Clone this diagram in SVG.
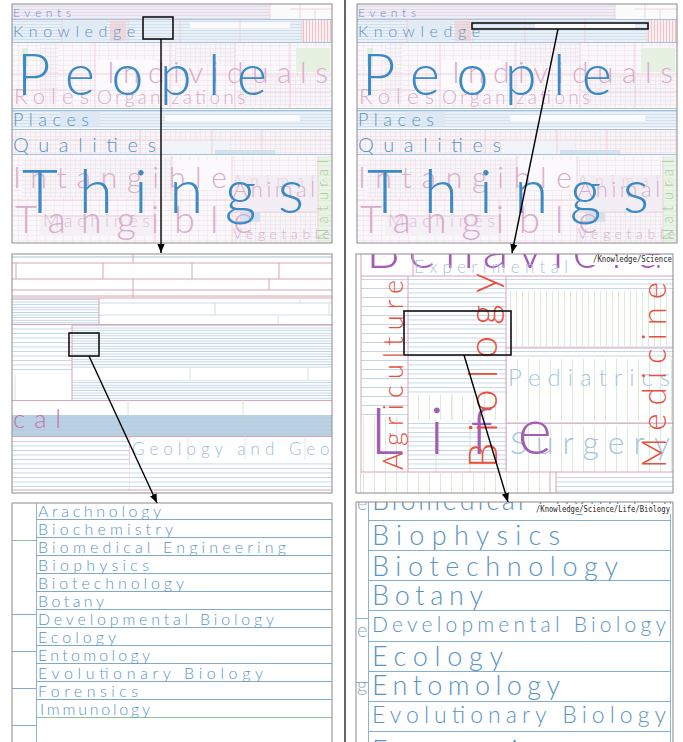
<svg xmlns="http://www.w3.org/2000/svg" xmlns:xlink="http://www.w3.org/1999/xlink" width="683" height="742" viewBox="0 0 683 742">
  <style>
    text { font-family: "Lato", "Liberation Sans", sans-serif; font-weight: 300; }
    .frame { fill: none; stroke: #8a8a8a; stroke-width: 1; }
    .pk { stroke: #dca4b4; stroke-width: 1; fill: none; }
    .pk2 { stroke: #ecccd4; stroke-width: .8; fill: none; }
    .bl { stroke: #8fb4d4; stroke-width: 1; fill: none; }
    .gr { stroke: #cfe4cc; stroke-width: .8; fill: none; }
    .hi { fill: none; stroke: #111; stroke-width: 1.6; }
    .arrow { fill: none; stroke: #000; stroke-width: 1.4; marker-end: url(#head); }
    .path { font-family: "DejaVu Sans Mono", "Liberation Mono", monospace; font-weight: normal; font-size: 8px; fill: #222; }
    .big { fill: #3b8ac6; }
    .lab { fill: #5a94c6; }
    .pinkt { fill: #d9adcb; }
    .purple { fill: #a45cb4; }
    .red { fill: #e8503c; }
    .pale { fill: #a6c4e2; }
  </style>
  <defs>
    <marker id="head" viewBox="0 0 10 10" refX="10" refY="5" markerWidth="9" markerHeight="9" markerUnits="userSpaceOnUse" orient="auto">
      <path d="M0 1L10 5L0 9z" fill="#000"/>
    </marker>
    <!-- fill textures for the treemap cells -->
    <pattern id="lav" width="8" height="3" patternUnits="userSpaceOnUse">
      <rect width="8" height="3" fill="#f0ecf4"/><path d="M0 .5H8" stroke="#dccee2" stroke-width=".6"/>
    </pattern>
    <pattern id="bluS" width="8" height="3" patternUnits="userSpaceOnUse">
      <rect width="8" height="3" fill="#e9f0f7"/><path d="M0 .5H8" stroke="#c2d4e6" stroke-width=".6"/>
    </pattern>
    <pattern id="pgrid" width="9" height="5" patternUnits="userSpaceOnUse">
      <rect width="9" height="5" fill="#fbf8fb"/><path d="M0 .5H9M.5 0V5" stroke="#f0dee6" stroke-width=".5"/>
    </pattern>
    <pattern id="pgrid2" width="5" height="4" patternUnits="userSpaceOnUse">
      <rect width="5" height="4" fill="#f8f5f9"/><path d="M0 .5H5M.5 0V4" stroke="#ecdde6" stroke-width=".5"/>
    </pattern>
    <pattern id="vpink" width="3" height="6" patternUnits="userSpaceOnUse">
      <rect width="3" height="6" fill="#f9eef0"/><path d="M.5 0V6" stroke="#e6a4b0" stroke-width=".6"/>
    </pattern>
    <pattern id="grn" width="6" height="5" patternUnits="userSpaceOnUse">
      <rect width="6" height="5" fill="#eaf4e6"/><path d="M0 .5H6" stroke="#d6e8d0" stroke-width=".5"/>
    </pattern>
    <pattern id="hb26" width="10" height="2.6" patternUnits="userSpaceOnUse">
      <rect width="10" height="2.6" fill="#fff"/><path d="M0 .5H10" stroke="#9fbfd9" stroke-width=".7"/>
    </pattern>
    <pattern id="hb4" width="10" height="4.5" patternUnits="userSpaceOnUse">
      <rect width="10" height="4.5" fill="#fff"/><path d="M0 .5H10" stroke="#a8c4dc" stroke-width=".7"/>
    </pattern>
    <pattern id="hb9" width="10" height="9" patternUnits="userSpaceOnUse">
      <rect width="10" height="9" fill="#fff"/><path d="M0 .5H10" stroke="#b4cce0" stroke-width=".8"/>
    </pattern>
    <pattern id="vg6" width="6" height="10" patternUnits="userSpaceOnUse">
      <rect width="6" height="10" fill="#fff"/><path d="M.5 0V10" stroke="#d2e6d0" stroke-width=".8"/>
    </pattern>
    <pattern id="vg11" width="11" height="10" patternUnits="userSpaceOnUse">
      <rect width="11" height="10" fill="#fff"/><path d="M.5 0V10" stroke="#d2e6d0" stroke-width=".8"/>
    </pattern>
    <clipPath id="c1"><rect x="12" y="4" width="320" height="239"/></clipPath>
    <clipPath id="c2l"><rect x="12" y="254" width="320" height="239"/></clipPath>
    <clipPath id="c2r"><rect x="356" y="254" width="317" height="239"/></clipPath>
    <clipPath id="c3l"><rect x="12" y="503" width="320" height="239"/></clipPath>
    <clipPath id="c3r"><rect x="356" y="502" width="317" height="240"/></clipPath>

    <!-- top-level treemap, shared by both columns -->
    <g id="overview-map">
      <g clip-path="url(#c1)">
        <rect x="12" y="4" width="320" height="239" fill="#fbf9fb"/>
        <!-- Events -->
        <rect x="12" y="4" width="258" height="15" fill="url(#lav)"/>
        <rect x="270" y="4" width="62" height="15" fill="#fcfbfc"/>
        <path class="pk2" d="M270 4V19M290 9H332M300 4V19M315 9V19"/>
        <!-- Knowledge -->
        <rect x="12" y="20" width="290" height="22" fill="url(#bluS)"/>
        <rect x="110" y="21" width="16" height="20" fill="#f2cccc" opacity=".6"/>
        <rect x="62" y="21" width="44" height="20" fill="#e2ebf4"/>
        <rect x="190" y="22" width="100" height="6" fill="#f8fafc"/>
        <rect x="302" y="20" width="30" height="22" fill="url(#vpink)"/>
        <path class="pk2" d="M62 20V42M128 20V42M180 20V42M240 20V42M302 20V42"/>
        <!-- People -->
        <rect x="12" y="43" width="320" height="65" fill="url(#pgrid)"/>
        <rect x="40" y="44" width="18" height="60" fill="url(#pgrid2)"/>
        <rect x="96" y="60" width="60" height="30" fill="#fcfafc"/>
        <rect x="175" y="44" width="60" height="20" fill="url(#pgrid2)"/>
        <rect x="296" y="48" width="34" height="24" fill="#e6f1e2"/>
        <rect x="240" y="76" width="90" height="30" fill="url(#pgrid2)"/>
        <rect x="22" y="48" width="6" height="18" fill="#e0eedc"/>
        <path class="pk2" d="M12 74H332M95 43V108M170 43V108M235 43V108M290 43V108M12 90H95M235 92H332"/>
        <!-- Places -->
        <rect x="12" y="110" width="320" height="18" fill="url(#bluS)"/>
        <rect x="60" y="112" width="40" height="14" fill="#dde8f3"/>
        <rect x="165" y="115" width="135" height="6" fill="#fbfcfe"/>
        <!-- Qualities -->
        <rect x="12" y="130" width="320" height="24" fill="url(#pgrid2)"/>
        <rect x="160" y="140" width="70" height="13" fill="#f0f4f8"/>
        <rect x="215" y="150" width="60" height="4" fill="#d4e2f0"/>
        <path class="pk2" d="M12 140H332M140 130V154M212 130V154M262 130V154"/>
        <!-- Things -->
        <rect x="12" y="156" width="320" height="87" fill="url(#pgrid)"/>
        <rect x="22" y="158" width="150" height="40" fill="url(#pgrid2)"/>
        <rect x="172" y="160" width="60" height="30" fill="#fbf9fb"/>
        <rect x="234" y="176" width="84" height="36" fill="#f3eef5"/>
        <rect x="318" y="156" width="14" height="87" fill="url(#grn)"/>
        <rect x="232" y="212" width="86" height="31" fill="url(#pgrid2)"/>
        <rect x="240" y="212" width="20" height="10" fill="#d4e3ef"/>
        <rect x="40" y="216" width="115" height="20" fill="#f4f0f5"/>
        <path class="pk2" d="M12 200H232M232 156V243M172 156V200M318 156V243M232 212H318M155 200V243M12 216H155"/>
        <!-- band separators -->
        <path class="bl" d="M12 19.5H332M12 42.5H332M12 108.5H332M12 110.5H332M12 129.5H332M12 154.5H332" opacity=".8"/>

        <!-- labels -->
        <text class="pinkt" x="107" y="83" font-size="30" textLength="221" lengthAdjust="spacing">Individuals</text>
        <text class="pinkt" x="14" y="104" font-size="22" textLength="75" lengthAdjust="spacing">Roles</text>
        <text class="pinkt" x="97" y="104" font-size="19" textLength="148" lengthAdjust="spacing">Organizations</text>
        <text class="pinkt" x="13" y="188" font-size="30" textLength="214" lengthAdjust="spacing">Intangible</text>
        <text class="pinkt" x="233" y="186" font-size="15" textLength="95" lengthAdjust="spacing" opacity=".45">Animals</text>
        <text class="pinkt" x="233" y="197" font-size="22" textLength="82" lengthAdjust="spacing">Animal</text>
        <text class="pinkt" x="43" y="227" font-size="18" textLength="107" lengthAdjust="spacing" opacity=".7">Machines</text>
        <text class="pinkt" x="15" y="233" font-size="38" textLength="238" lengthAdjust="spacing">Tangible</text>
        <text class="pinkt" x="233" y="239" font-size="14" textLength="97" lengthAdjust="spacing">Vegetable</text>
        <text fill="#9ccc94" font-size="15" transform="translate(328 240) rotate(-90)" textLength="80" lengthAdjust="spacing">Natural</text>
        <text class="lab" x="13" y="17" font-size="12" textLength="58" lengthAdjust="spacing">Events</text>
        <text class="lab" x="13" y="37" font-size="16" textLength="122" lengthAdjust="spacing">Knowledge</text>
        <text class="lab" x="13" y="126" font-size="18" textLength="76" lengthAdjust="spacing">Places</text>
        <text class="lab" x="13" y="152" font-size="20" textLength="143" lengthAdjust="spacing">Qualities</text>
        <text class="big" x="17" y="95" font-size="58" textLength="250" lengthAdjust="spacing">People</text>
        <text class="big" x="22" y="213" font-size="62" textLength="282" lengthAdjust="spacing">Things</text>
      </g>
      <rect class="frame" x="12" y="4" width="320" height="239"/>
    </g>
  </defs>

  <rect width="683" height="742" fill="#fff"/>

  <!-- column divider -->
  <path d="M345 0V742" stroke="#000" stroke-width="1.2"/>

  <!-- left column, level 1 -->
  <g id="overview-left">
    <use xlink:href="#overview-map"/>
    <rect class="hi" x="143" y="17" width="30" height="22"/>
  </g>

  <!-- right column, level 1 -->
  <g id="overview-right">
    <use xlink:href="#overview-map" transform="translate(345 0)"/>
    <rect class="hi" x="472" y="23" width="176" height="6"/>
  </g>

  <!-- left column, level 2 -->
  <g id="zoom-left">
    <g clip-path="url(#c2l)">
      <rect x="12" y="254" width="320" height="239" fill="#fff"/>
      <path d="M12 257H332" stroke="#a9bfd4" stroke-width="1"/>
      <path class="pk" d="M133 254V263M12 263H332M12 279H332M12 290H332M12 296H332M12 298H332M16 263V279M103 263V279M192 263V279M279 263V279M133 279V298M269 279V290"/>
      <rect x="12" y="299" width="87" height="25" fill="url(#hb26)"/>
      <path d="M99 303H332M99 315H332M215 303V315M329 303V315M278 315V324M300 298V303" stroke="#cfdde8" stroke-width="1"/>
      <path class="pk" d="M99 298V324M12 324.5H332"/>
      <rect x="12" y="325" width="60" height="48" fill="url(#hb4)"/>
      <path d="M15 375V400" stroke="#d2e6d0"/>
      <rect x="72" y="325" width="260" height="43" fill="url(#hb26)"/>
      <rect x="72" y="380" width="260" height="20" fill="url(#hb26)"/>
      <path d="M190 368V380M308 368V380" stroke="#d2e6d0"/>
      <path class="pk" d="M72 324V400M12 400.5H332"/>
      <path d="M128 400V415M243 400V415" stroke="#d2e6d0"/>
      <rect x="12" y="415" width="320" height="21" fill="#bcd2e3"/>
      <path d="M12 418H332M12 422H332M12 426H332M12 430H332M12 434H332" stroke="#aac6db" stroke-width=".6"/>
      <text x="13" y="428" font-size="26" fill="#c277ad" textLength="48" lengthAdjust="spacing">cal</text>
      <path class="pk" d="M12 436.5H332M129 436V490"/>
      <rect x="12" y="438" width="117" height="51" fill="url(#hb4)"/>
      <path d="M188 438V460M245 438V460M305 438V460" stroke="#e0ecde"/>
      <rect x="129.5" y="463" width="203" height="26" fill="url(#hb4)"/>
      <text x="132" y="455" font-size="17" fill="#9dbcd8" textLength="212" lengthAdjust="spacing">Geology and Geop</text>
      <path class="pk" d="M12 490H332"/>
    </g>
    <rect class="frame" x="12" y="254" width="320" height="239"/>
    <rect class="hi" x="69" y="333" width="30" height="23"/>
  </g>

  <!-- right column, level 2 -->
  <g id="zoom-right">
    <g clip-path="url(#c2r)">
      <rect x="356" y="254" width="317" height="239" fill="#fff"/>
      <text class="purple" x="366" y="268" font-size="54" textLength="318" lengthAdjust="spacing">Behavioral</text>
      <text class="pale" x="414" y="273" font-size="17" textLength="154" lengthAdjust="spacing">Experimental</text>
      <path class="pk" d="M413 254V276M361 276H673"/>
      <!-- Agriculture -->
      <rect x="361" y="277" width="47" height="140" fill="url(#hb9)"/>
      <rect x="361" y="417" width="47" height="55" fill="url(#vg11)"/>
      <!-- Biology -->
      <rect x="408" y="277" width="98" height="118" fill="url(#hb4)"/>
      <rect x="408" y="395" width="98" height="25" fill="url(#vg11)"/>
      <rect x="408" y="420" width="98" height="52" fill="url(#hb4)"/>
      <path d="M436 420V472M470 420V472M452 395V420" stroke="#d2e6d0"/>
      <!-- Medicine -->
      <rect x="506" y="277" width="167" height="14" fill="url(#hb4)"/>
      <rect x="506" y="291" width="167" height="55" fill="url(#vg6)"/>
      <rect x="506" y="346" width="167" height="13" fill="url(#hb4)"/>
      <rect x="506" y="359" width="167" height="62" fill="url(#vg11)"/>
      <rect x="506" y="421" width="167" height="5" fill="url(#hb4)"/>
      <rect x="506" y="426" width="167" height="46" fill="url(#vg11)"/>
      <path class="pk" d="M506 348H673M506 423H673"/>
      <path class="pk" d="M361 254V493M408 276V472M506 276V472M361 472H673"/>
      <rect x="361" y="473" width="189" height="20" fill="url(#vg11)"/>
      <rect x="556" y="474" width="117" height="19" fill="url(#hb4)"/>
      <path class="pk" d="M550 472V493M556 472V493"/>
      <text class="pale" x="508" y="386" font-size="24" textLength="162" lengthAdjust="spacing">Pediatrics</text>
      <text class="pale" x="510" y="454" font-size="32" textLength="160" lengthAdjust="spacing">Surgery</text>
      <text class="purple" x="370" y="454" font-size="66" textLength="182" lengthAdjust="spacing">Life</text>
      <text class="red" font-size="27" transform="translate(403 470) rotate(-90)" textLength="190" lengthAdjust="spacing">Agriculture</text>
      <text class="red" font-size="40" transform="translate(497 468) rotate(-90)" textLength="195" lengthAdjust="spacing">Biology</text>
      <text class="red" font-size="33" transform="translate(666 468) rotate(-90)" textLength="186" lengthAdjust="spacing">Medicine</text>
      <rect x="592" y="255" width="81" height="10" fill="#fff"/>
      <text class="path" x="593" y="262" textLength="79" lengthAdjust="spacingAndGlyphs">/Knowledge/Science</text>
    </g>
    <rect class="frame" x="356" y="254" width="317" height="239"/>
    <rect class="hi" x="404" y="311" width="107" height="44"/>
  </g>

  <!-- left column, level 3 -->
  <g id="leaf-left">
    <g clip-path="url(#c3l)">
      <rect x="12" y="503" width="320" height="239" fill="#fff"/>
      <path d="M36.5 503V742" stroke="#8ab8c4" stroke-width="1"/>
      <path d="M36 519.5H332M36 537.5H332M36 555.5H332M36 573.5H332M36 591.5H332M36 609.5H332M36 627.5H332M36 645.5H332M36 663.5H332M36 681.5H332M36 699.5H332" stroke="#7eaad0" stroke-width="1"/>
      <path d="M36 717.5H332M12 540.5H36" stroke="#86c496" stroke-width="1"/>
      <path d="M12 614.5H36M12 651.5H36M12 688.5H36M12 725.5H36" stroke="#7eaad0" stroke-width="1"/>
      <g class="lab" font-size="16">
        <text x="38" y="517" textLength="123" lengthAdjust="spacing">Arachnology</text>
        <text x="38" y="535" textLength="135" lengthAdjust="spacing">Biochemistry</text>
        <text x="38" y="553" textLength="248" lengthAdjust="spacing">Biomedical Engineering</text>
        <text x="38" y="571" textLength="111" lengthAdjust="spacing">Biophysics</text>
        <text x="38" y="589" textLength="146" lengthAdjust="spacing">Biotechnology</text>
        <text x="38" y="607" textLength="66" lengthAdjust="spacing">Botany</text>
        <text x="38" y="625" textLength="236" lengthAdjust="spacing">Developmental Biology</text>
        <text x="38" y="643" textLength="78" lengthAdjust="spacing">Ecology</text>
        <text x="38" y="661" textLength="112" lengthAdjust="spacing">Entomology</text>
        <text x="38" y="679" textLength="225" lengthAdjust="spacing">Evolutionary Biology</text>
        <text x="38" y="697" textLength="100" lengthAdjust="spacing">Forensics</text>
        <text x="40" y="715" textLength="110" lengthAdjust="spacing">Immunology</text>
      </g>
    </g>
    <path d="M12 742V503H332V742" class="frame"/>
  </g>

  <!-- right column, level 3 -->
  <g id="leaf-right">
    <g clip-path="url(#c3r)">
      <rect x="356" y="502" width="317" height="240" fill="#fff"/>
      <path d="M368.5 502V742M670.5 502V742" stroke="#8ab4d0" stroke-width="1"/>
      <path d="M356 618.5H368M356 682.5H368" stroke="#8ab4d0" stroke-width="1"/>
      <path d="M368 520.5H670M368 550.5H670M368 580.5H670M368 610.5H670M368 641.5H670M368 671.5H670M368 701.5H670M368 731.5H670" stroke="#84aed2" stroke-width="1"/>
      <g class="lab">
        <text x="372" y="510" font-size="27" textLength="330" lengthAdjust="spacing">Biomedical Engineering</text>
        <text x="357" y="510" font-size="20" fill="#8aa8c4">e</text>
        <text x="357" y="637" font-size="20" fill="#8aa8c4">e</text>
        <text x="357" y="692" font-size="20" fill="#8aa8c4">g</text>
        <text x="372" y="545" font-size="27" textLength="188" lengthAdjust="spacing">Biophysics</text>
        <text x="372" y="576" font-size="27" textLength="246" lengthAdjust="spacing">Biotechnology</text>
        <text x="372" y="605" font-size="27" textLength="111" lengthAdjust="spacing">Botany</text>
        <text x="372" y="632" font-size="21" textLength="294" lengthAdjust="spacing">Developmental Biology</text>
        <text x="372" y="666" font-size="27" textLength="131" lengthAdjust="spacing">Ecology</text>
        <text x="372" y="695" font-size="27" textLength="188" lengthAdjust="spacing">Entomology</text>
        <text x="372" y="723" font-size="23" textLength="294" lengthAdjust="spacing">Evolutionary Biology</text>
        <text x="372" y="760" font-size="27" textLength="190" lengthAdjust="spacing">Forensics</text>
      </g>
      <rect x="535" y="504" width="138" height="10" fill="#fff"/>
      <text class="path" x="536" y="512" textLength="134" lengthAdjust="spacingAndGlyphs">/Knowledge/Science/Life/Biology</text>
    </g>
    <path d="M356 742V502H673V742" class="frame"/>
  </g>

  <!-- zoom connectors -->
  <g id="connectors">
    <path class="arrow" d="M161 39V253"/>
    <path class="arrow" d="M558 29L512 253"/>
    <path class="arrow" d="M89 356L157 503"/>
    <path class="arrow" d="M464 355L508 502"/>
  </g>
</svg>
